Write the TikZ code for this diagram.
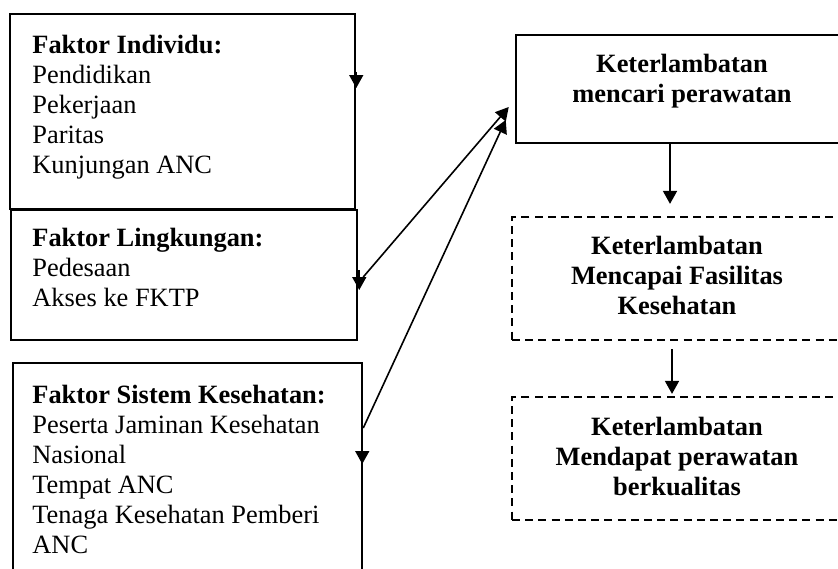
\documentclass[tikz,border=0pt]{standalone}
\usepackage{fontspec}
\setmainfont{Liberation Serif}
\usepackage{tikz}
\usetikzlibrary{positioning,arrows.meta,calc}

\begin{document}
\begin{tikzpicture}[x=0.5pt, y=-0.5pt,
        factor/.style={draw=black, line width=1.25pt, inner sep=0pt},
        delay/.style={draw=black, line width=1.25pt, inner sep=0pt},
        dashdelay/.style={draw=black, line width=1.1pt, inner sep=0pt, dash pattern=on 4pt off 2.6pt},
        lab/.style={font=\fontsize{13.2pt}{15pt}\selectfont, inner sep=0pt},
        blab/.style={lab, anchor=base, align=center, font=\fontsize{13.2pt}{15pt}\selectfont\bfseries},
        arr/.style={line width=0.8pt, -{Triangle[length=6.5pt, width=7pt]}},
      ]
      \useasboundingbox (0,0) rectangle (838,568);
      % faktor (kiri)
      \node[factor, minimum width=172.5pt, minimum height=97.5pt] (indiv) at (182.5,111.5) {};
      \node[factor, minimum width=173pt, minimum height=65pt] (env) at (184,275) {};
      \node[factor, minimum width=174.5pt, minimum height=106pt] (sys) at (187.5,469) {};
      \node[lab, anchor=base west, align=left] at (32,173)
        {\textbf{Faktor Individu:}\\Pendidikan\\Pekerjaan\\Paritas\\Kunjungan ANC};
      \node[lab, anchor=base west, align=left] at (32,306)
        {\textbf{Faktor Lingkungan:}\\Pedesaan\\Akses ke FKTP};
      \node[lab, anchor=base west, align=left] at (32,553)
        {\textbf{Faktor Sistem Kesehatan:}\\Peserta Jaminan Kesehatan\\Nasional\\Tempat ANC\\Tenaga Kesehatan Pemberi\\ANC};
      % keterlambatan (kanan)
      \node[delay, minimum width=166pt, minimum height=54pt] (seek) at (682,89) {};
      \node[dashdelay, minimum width=165pt, minimum height=61.5pt] (reach) at (677,278.5) {};
      \node[dashdelay, minimum width=165pt, minimum height=61.5pt] (receive) at (677,458.5) {};
      \node[blab] at (682,102) {Keterlambatan\\mencari perawatan};
      \node[blab] at (677,314) {Keterlambatan\\Mencapai Fasilitas\\Kesehatan};
      \node[blab] at (677,495) {Keterlambatan\\Mendapat perawatan\\berkualitas};
      % panah
      \draw[arr] ($(indiv.east)+(0,-40)$) -- ($(indiv.east)+(0,-23.5)$);
      \draw[arr] ($(env.east)+(1,-5)$) -- ($(env.east)+(1,15)$);
      \draw[arr] ($(sys.east)+(-1,-25)$) -- ($(sys.east)+(-1,-5)$);
      \draw[arr] ($(env.east)+(5,2)$) -- ($(seek.west)+(-6,18)$);
      \draw[arr] ($(sys.east)+(0,-41)$) -- ($(seek.west)+(-9,31)$);
      \draw[arr] ($(seek.south)+(-12,0)$) -- ($(reach.north)+(-7,-12)$);
      \draw[arr] ($(reach.south)+(-5,8)$) -- ($(receive.north)+(-5,-2)$);
    \end{tikzpicture}
\end{document}
